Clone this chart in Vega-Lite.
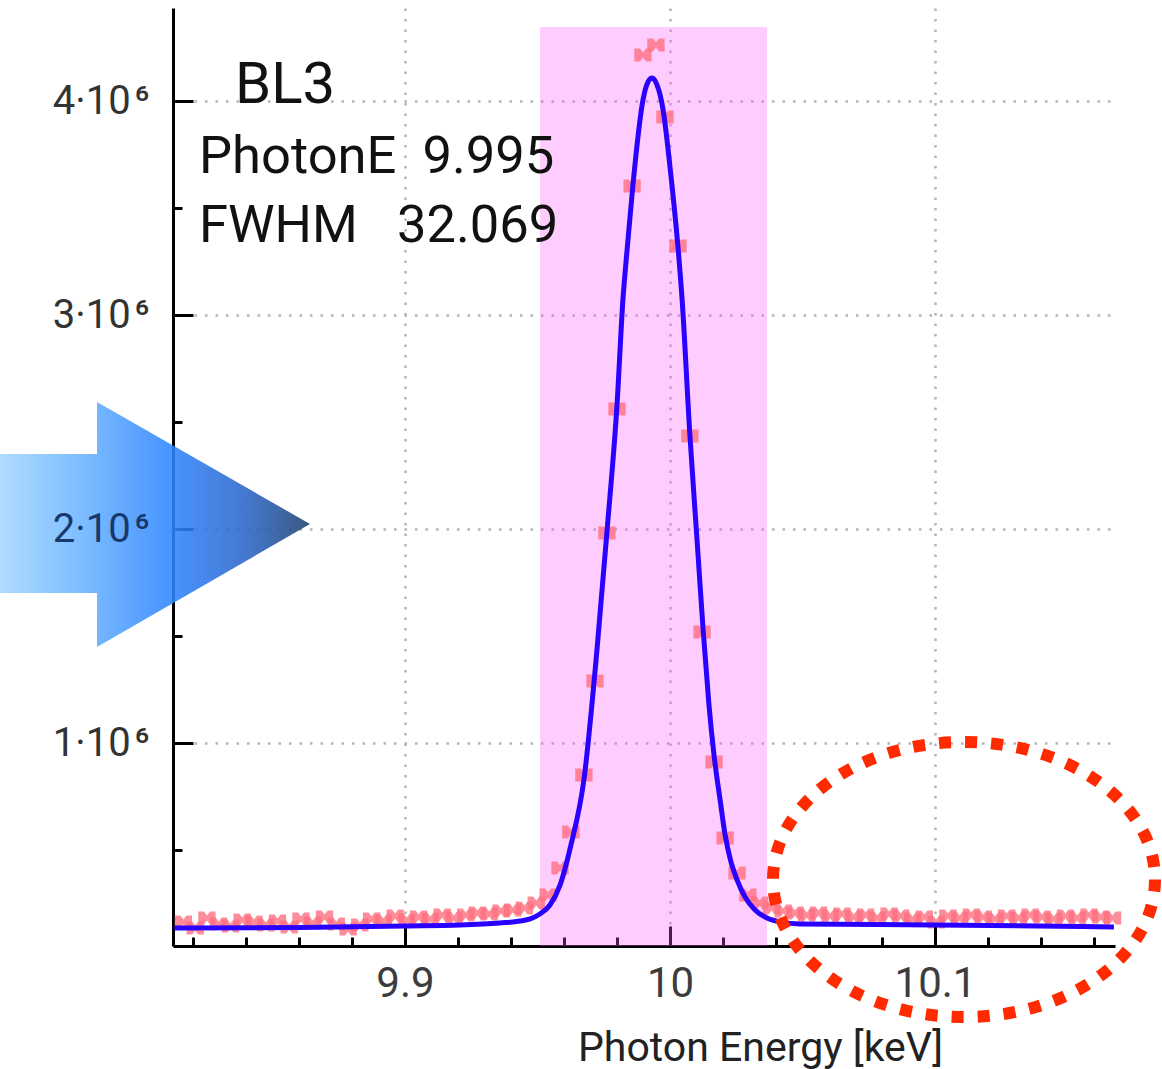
{
  "$schema": "https://vega.github.io/schema/vega-lite/v6.json",
  "width": 942,
  "height": 938,
  "autosize": {"type": "none"},
  "padding": {"left": 173, "top": 8, "right": 47, "bottom": 123},
  "background": "white",
  "config": {"view": {"stroke": null}, "font": "Roboto"},
  "datasets": {
    "band": [{"start": 9.95094, "end": 10.0366, "top": 4346000, "bottom": 51400}],
    "points": [
      {"energy": 9.81638, "counts": 163600}, {"energy": 9.82082, "counts": 135500}, {"energy": 9.82526, "counts": 182200},
      {"energy": 9.8297, "counts": 154200}, {"energy": 9.83413, "counts": 144900}, {"energy": 9.83857, "counts": 172900},
      {"energy": 9.84301, "counts": 163600}, {"energy": 9.84745, "counts": 149500}, {"energy": 9.85189, "counts": 168200},
      {"energy": 9.85632, "counts": 140200}, {"energy": 9.86076, "counts": 177600}, {"energy": 9.8652, "counts": 158900},
      {"energy": 9.86964, "counts": 186900}, {"energy": 9.87408, "counts": 154200}, {"energy": 9.87851, "counts": 130800},
      {"energy": 9.88295, "counts": 149500}, {"energy": 9.88739, "counts": 177600}, {"energy": 9.89183, "counts": 168200},
      {"energy": 9.89627, "counts": 191600}, {"energy": 9.9007, "counts": 172900}, {"energy": 9.90514, "counts": 186900},
      {"energy": 9.90958, "counts": 177600}, {"energy": 9.91402, "counts": 196300}, {"energy": 9.91846, "counts": 182200},
      {"energy": 9.92289, "counts": 196300}, {"energy": 9.92733, "counts": 205600}, {"energy": 9.93177, "counts": 200900},
      {"energy": 9.93621, "counts": 215000}, {"energy": 9.94065, "counts": 219600}, {"energy": 9.94508, "counts": 229000},
      {"energy": 9.94952, "counts": 252300},
      {"energy": 9.954, "counts": 290000}, {"energy": 9.9585, "counts": 416000}, {"energy": 9.9626, "counts": 584000},
      {"energy": 9.9675, "counts": 850000}, {"energy": 9.9717, "counts": 1290000}, {"energy": 9.9762, "counts": 1981000},
      {"energy": 9.98, "counts": 2561000}, {"energy": 9.9857, "counts": 3603000}, {"energy": 9.9898, "counts": 4215000},
      {"energy": 9.9947, "counts": 4262000}, {"energy": 9.9981, "counts": 3925000}, {"energy": 10.003, "counts": 3322000},
      {"energy": 10.0075, "counts": 2435000}, {"energy": 10.0121, "counts": 1519000}, {"energy": 10.0166, "counts": 911000},
      {"energy": 10.0208, "counts": 556000}, {"energy": 10.0253, "counts": 393000}, {"energy": 10.0294, "counts": 290000},
      {"energy": 10.03384, "counts": 252300}, {"energy": 10.03828, "counts": 229000}, {"energy": 10.04272, "counts": 215000},
      {"energy": 10.04716, "counts": 205600}, {"energy": 10.0516, "counts": 196300}, {"energy": 10.05603, "counts": 205600},
      {"energy": 10.06047, "counts": 191600}, {"energy": 10.06491, "counts": 200900}, {"energy": 10.06935, "counts": 186900},
      {"energy": 10.07379, "counts": 196300}, {"energy": 10.07823, "counts": 182200}, {"energy": 10.08266, "counts": 200900},
      {"energy": 10.0871, "counts": 191600}, {"energy": 10.09154, "counts": 177600}, {"energy": 10.09598, "counts": 186900},
      {"energy": 10.10042, "counts": 163600}, {"energy": 10.10485, "counts": 191600}, {"energy": 10.10929, "counts": 182200},
      {"energy": 10.11373, "counts": 196300}, {"energy": 10.11817, "counts": 186900}, {"energy": 10.12261, "counts": 177600},
      {"energy": 10.12705, "counts": 191600}, {"energy": 10.13148, "counts": 182200}, {"energy": 10.13592, "counts": 196300},
      {"energy": 10.14036, "counts": 186900}, {"energy": 10.1448, "counts": 177600}, {"energy": 10.14924, "counts": 191600},
      {"energy": 10.15367, "counts": 182200}, {"energy": 10.15811, "counts": 196300}, {"energy": 10.16255, "counts": 186900},
      {"energy": 10.16699, "counts": 182200}
    ],
    "fit": [
      {"energy": 9.813, "counts": 135500}, {"energy": 9.8604, "counts": 138000}, {"energy": 9.9, "counts": 145000},
      {"energy": 9.9208, "counts": 149500}, {"energy": 9.9358, "counts": 159000}, {"energy": 9.9434, "counts": 168000},
      {"energy": 9.9472, "counts": 178000}, {"energy": 9.9509, "counts": 201000}, {"energy": 9.9547, "counts": 243000},
      {"energy": 9.9585, "counts": 336000}, {"energy": 9.9626, "counts": 523000}, {"energy": 9.9675, "counts": 827000},
      {"energy": 9.9725, "counts": 1444000}, {"energy": 9.9762, "counts": 1986000}, {"energy": 9.98, "counts": 2580000},
      {"energy": 9.9823, "counts": 3084000}, {"energy": 9.9838, "counts": 3304000}, {"energy": 9.986, "counts": 3607000},
      {"energy": 9.9898, "counts": 4005000}, {"energy": 9.9917, "counts": 4089000}, {"energy": 9.9932, "counts": 4107000},
      {"energy": 9.9951, "counts": 4075000}, {"energy": 9.9974, "counts": 3958000}, {"energy": 10.0, "counts": 3692000},
      {"energy": 10.003, "counts": 3318000}, {"energy": 10.0045, "counts": 3084000}, {"energy": 10.0075, "counts": 2439000},
      {"energy": 10.0102, "counts": 1949000}, {"energy": 10.0125, "counts": 1528000}, {"energy": 10.0147, "counts": 1178000},
      {"energy": 10.0166, "counts": 944000}, {"energy": 10.0189, "counts": 734000}, {"energy": 10.0208, "counts": 570000},
      {"energy": 10.023, "counts": 444000}, {"energy": 10.0253, "counts": 360000}, {"energy": 10.0283, "counts": 280000},
      {"energy": 10.0321, "counts": 220000}, {"energy": 10.0366, "counts": 182000}, {"energy": 10.0415, "counts": 164000},
      {"energy": 10.0491, "counts": 154000}, {"energy": 10.1, "counts": 150000}, {"energy": 10.1675, "counts": 140000}
    ],
    "notes": [
      {"label": "PhotonE\u00a0\u00a09.995", "energy": 9.82226, "counts": 3662100},
      {"label": "FWHM\u00a0\u00a0\u00a032.069", "energy": 9.82226, "counts": 3341000}
    ],
    "tag": [{"label": "BL3", "energy": 9.83585, "counts": 3992000}],
    "arrow": [
      {"energy": 9.7465, "top": 2350500, "bottom": 1700900},
      {"energy": 9.78376, "top": 2350500, "bottom": 1700900},
      {"energy": 9.78378, "top": 2593500, "bottom": 1448600},
      {"energy": 9.86415, "top": 2023400, "bottom": 2023400}
    ],
    "ring": [{"energy": 10.11094, "counts": 362150}]
  },
  "resolve": {"axis": {"x": "independent", "y": "independent"}},
  "layer": [
    {
      "data": {"name": "band"},
      "mark": {"type": "rect", "color": "#ff55ff", "opacity": 0.3},
      "encoding": {
        "x": {"field": "start", "type": "quantitative",
          "scale": {"domain": [9.81245, 10.16792], "nice": false, "zero": false},
          "axis": {"orient": "bottom", "values": [9.9, 10, 10.1], "format": "~g", "ticks": false,
            "domainColor": "#000000", "domainWidth": 3, "labelFont": "Roboto", "labelFontSize": 42,
            "labelColor": "#3c3c3c", "labelPadding": 17, "labelFlush": false, "labelOverlap": false,
            "grid": true, "gridColor": "#b4b4b4", "gridDash": [2.5, 8], "gridWidth": 2.5,
            "title": "Photon Energy [keV]", "titleFont": "Roboto", "titleFontSize": 41, "titleFontWeight": "normal",
            "titleColor": "#222222", "titleX": 587, "titleY": 114, "titleAlign": "center", "titleBaseline": "alphabetic",
            "zindex": 0}},
        "x2": {"field": "end"},
        "y": {"field": "top", "type": "quantitative",
          "scale": {"domain": [51400, 4434600], "nice": false, "zero": false},
          "axis": {"orient": "left", "values": [1000000, 2000000, 3000000, 4000000],
            "labels": false, "ticks": false,
            "domainColor": "#000000", "domainWidth": 3,
            "grid": true, "gridColor": "#b4b4b4", "gridDash": [2.5, 8], "gridWidth": 2.5,
            "title": null, "zindex": 0}},
        "y2": {"field": "bottom"}
      }
    },
    {
      "data": {"name": "points"},
      "mark": {"type": "point", "shape": "M-1,-0.75 L-0.35,-0.75 L0,-0.3 L0.35,-0.75 L1,-0.75 L1,0.75 L0.35,0.75 L0,0.3 L-0.35,0.75 L-1,0.75 Z", "filled": true,
        "size": 300, "color": "#ff6f7f", "opacity": 0.8},
      "encoding": {
        "x": {"field": "energy", "type": "quantitative",
          "scale": {"domain": [9.81245, 10.16792], "nice": false, "zero": false},
          "axis": {"orient": "bottom", "values": [9.9, 10, 10.1], "labels": false, "domain": false, "grid": false,
            "ticks": true, "tickSize": -20, "tickWidth": 3, "tickColor": "#000000", "title": null, "zindex": 0}},
        "y": {"field": "counts", "type": "quantitative",
          "scale": {"domain": [51400, 4434600], "nice": false, "zero": false},
          "axis": {"orient": "left", "values": [1000000, 2000000, 3000000, 4000000], "labels": false, "domain": false,
            "grid": false, "ticks": true, "tickSize": -20, "tickWidth": 3, "tickColor": "#000000", "title": null, "zindex": 0}}
      }
    },
    {
      "data": {"name": "fit"},
      "mark": {"type": "line", "color": "#2a00ff", "strokeWidth": 5, "interpolate": "monotone"},
      "encoding": {
        "x": {"field": "energy", "type": "quantitative",
          "scale": {"domain": [9.81245, 10.16792], "nice": false, "zero": false},
          "axis": {"orient": "bottom",
            "values": [9.82, 9.84, 9.86, 9.88, 9.92, 9.94, 9.96, 9.98, 10.02, 10.04, 10.06, 10.08, 10.12, 10.14, 10.16],
            "labels": false, "domain": false, "grid": false, "ticks": true, "tickSize": -9, "tickWidth": 3,
            "tickColor": "#000000", "title": null, "zindex": 0}},
        "y": {"field": "counts", "type": "quantitative",
          "scale": {"domain": [51400, 4434600], "nice": false, "zero": false},
          "axis": {"orient": "left", "values": [500000, 1500000, 2500000, 3500000], "labels": false, "domain": false,
            "grid": false, "ticks": true, "tickSize": -9, "tickWidth": 3, "tickColor": "#000000", "title": null, "zindex": 0}}
      }
    },
    {
      "data": {"name": "notes"},
      "mark": {"type": "text", "font": "Roboto", "fontSize": 52.5, "color": "#111111", "align": "left", "baseline": "alphabetic"},
      "encoding": {
        "x": {"field": "energy", "type": "quantitative", "scale": {"domain": [9.81245, 10.16792], "nice": false, "zero": false}, "axis": null},
        "y": {"field": "counts", "type": "quantitative", "scale": {"domain": [51400, 4434600], "nice": false, "zero": false}, "axis": null},
        "text": {"field": "label"}
      }
    },
    {
      "data": {"name": "arrow"},
      "mark": {"type": "area", "opacity": 0.88,
        "color": {"gradient": "linear", "x1": 0, "y1": 0, "x2": 1, "y2": 0,
          "stops": [
            {"offset": 0, "color": "#a6d8ff"},
            {"offset": 0.25, "color": "#6fb6ff"},
            {"offset": 0.55, "color": "#2f86ff"},
            {"offset": 0.8, "color": "#2b64c8"},
            {"offset": 1, "color": "#1f4270"}
          ]}},
      "encoding": {
        "x": {"field": "energy", "type": "quantitative", "scale": {"domain": [9.81245, 10.16792], "nice": false, "zero": false}, "axis": null},
        "y": {"field": "top", "type": "quantitative", "scale": {"domain": [51400, 4434600], "nice": false, "zero": false}, "axis": null},
        "y2": {"field": "bottom"}
      }
    },
    {
      "data": {"name": "tag"},
      "mark": {"type": "text", "font": "Roboto", "fontSize": 58, "color": "#111111", "align": "left", "baseline": "alphabetic"},
      "encoding": {
        "x": {"field": "energy", "type": "quantitative", "scale": {"domain": [9.81245, 10.16792], "nice": false, "zero": false}, "axis": null},
        "y": {"field": "counts", "type": "quantitative", "scale": {"domain": [51400, 4434600], "nice": false, "zero": false},
          "axis": {"orient": "left", "values": [1000000, 2000000, 3000000, 4000000],
            "labelExpr": "format(datum.value/1000000,'d') + '·10\u200a⁶'", "ticks": false, "domain": false, "grid": false,
            "labelFont": "Roboto", "labelFontSize": 40, "labelPadding": 24, "labelFlush": false, "labelOverlap": false,
            "labelColor": {"condition": {"test": "datum.value == 2000000", "value": "#17396b"}, "value": "#333333"},
            "title": null, "zindex": 1}},
        "text": {"field": "label"}
      }
    },
    {
      "data": {"name": "ring"},
      "mark": {"type": "point",
        "shape": "M1,0 C1,0.3974 0.5523,0.72 0,0.72 C-0.5523,0.72 -1,0.3974 -1,0 C-1,-0.3974 -0.5523,-0.72 0,-0.72 C0.5523,-0.72 1,-0.3974 1,0 Z",
        "size": 145924, "filled": false, "color": "#ff2a00", "strokeWidth": 12, "strokeDash": [12, 14], "opacity": 1},
      "encoding": {
        "x": {"field": "energy", "type": "quantitative", "scale": {"domain": [9.81245, 10.16792], "nice": false, "zero": false}, "axis": null},
        "y": {"field": "counts", "type": "quantitative", "scale": {"domain": [51400, 4434600], "nice": false, "zero": false}, "axis": null}
      }
    }
  ]
}
